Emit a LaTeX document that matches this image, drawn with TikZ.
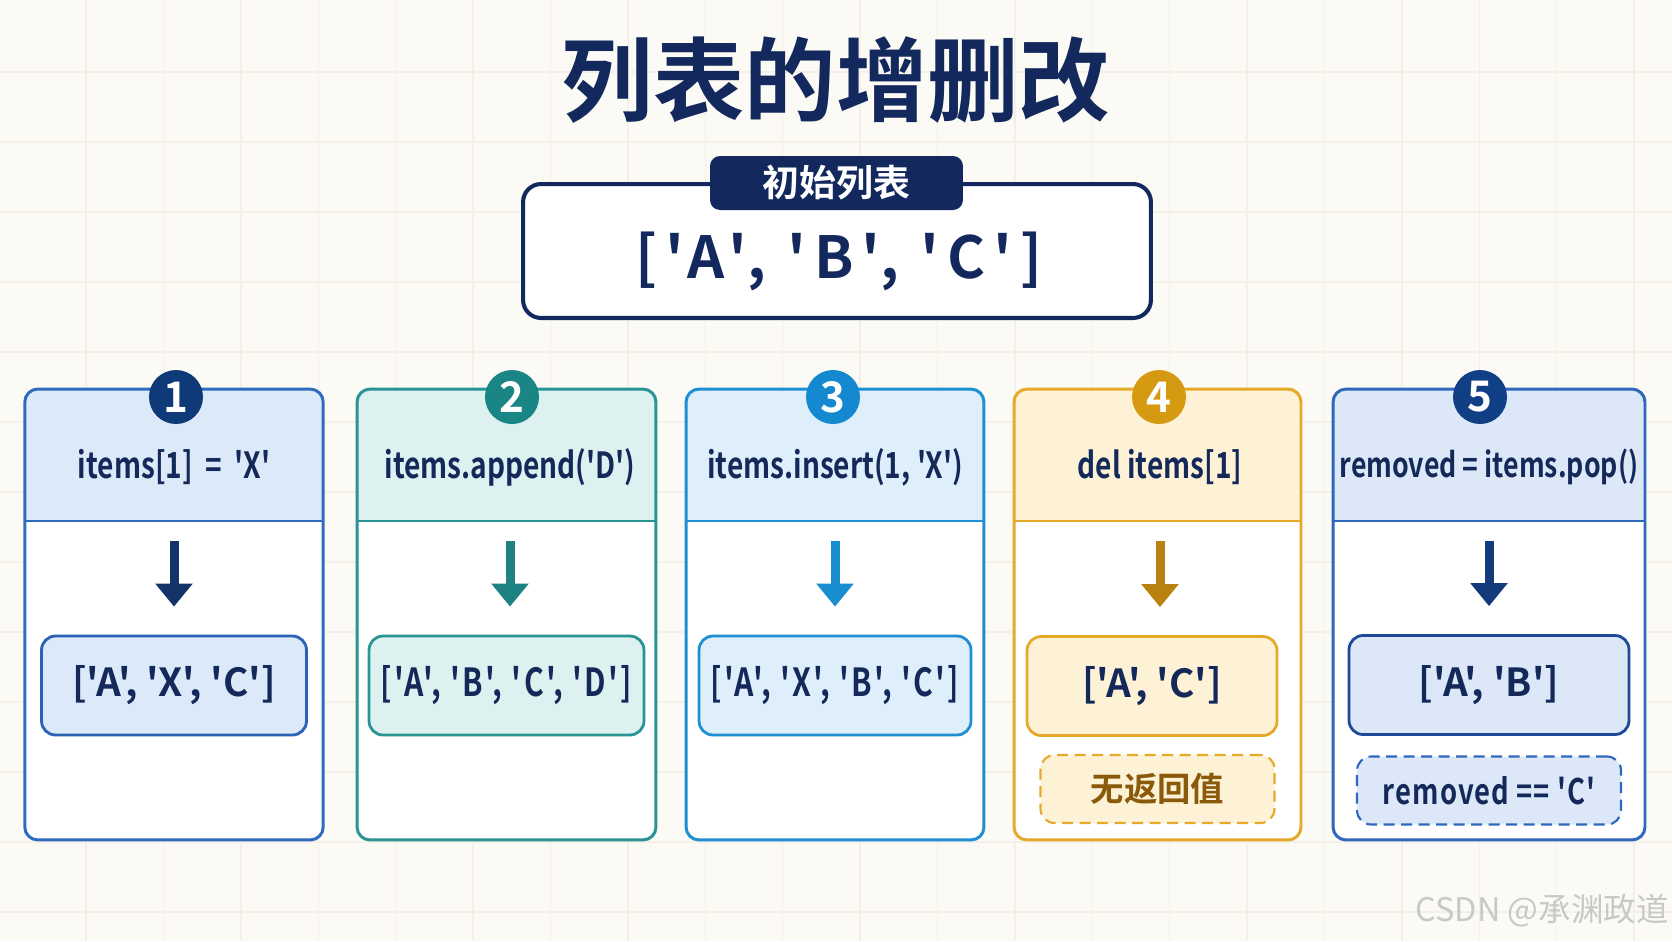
\documentclass[tikz,border=0pt]{standalone}
\usepackage{fontspec}
\usetikzlibrary{arrows.meta}
\newfontfamily\code{Noto Sans CJK SC}[BoldFont={Noto Sans CJK SC Bold}]
\newfontfamily\narrow{Noto Sans CJK SC}[BoldFont={Noto Sans CJK SC Bold},FakeStretch=0.78]
\definecolor{bg}{HTML}{FCFAF5}
\definecolor{gridc}{HTML}{F3F0E9}
\definecolor{navy}{HTML}{13295E}
\definecolor{txt}{HTML}{14295A}
\definecolor{wm}{HTML}{C8C8C8}
\definecolor{bdA}{HTML}{2F6CC0}
\definecolor{hdA}{HTML}{DCE9F8}
\definecolor{ncA}{HTML}{0F3A78}
\definecolor{arA}{HTML}{143469}
\definecolor{rbA}{HTML}{2A62B5}
\definecolor{bdB}{HTML}{2A9494}
\definecolor{hdB}{HTML}{DDF1F0}
\definecolor{ncB}{HTML}{1A8585}
\definecolor{arB}{HTML}{1E8282}
\definecolor{bdC}{HTML}{1E8FD2}
\definecolor{hdC}{HTML}{DEEFFB}
\definecolor{ncC}{HTML}{1489CF}
\definecolor{arC}{HTML}{1A8CD0}
\definecolor{bdD}{HTML}{E6A92A}
\definecolor{hdD}{HTML}{FDF1D6}
\definecolor{ncD}{HTML}{D59A12}
\definecolor{arD}{HTML}{B98110}
\definecolor{txD}{HTML}{8A5A0A}
\definecolor{bdE}{HTML}{2F67BC}
\definecolor{hdE}{HTML}{DCE8F7}
\definecolor{ncE}{HTML}{113F86}
\definecolor{arE}{HTML}{133A7A}
\definecolor{rbE}{HTML}{1D4A98}
\begin{document}
\begin{tikzpicture}[x=0.02cm,y=-0.02cm,font=\code\bfseries,
    panel/.style 2 args={draw=#1,fill=white,line width=1.7pt,rounded corners=0.26cm,
        minimum height=9.02cm,inner sep=0pt,
        path picture={\fill[#2,sharp corners] (path picture bounding box.north west) rectangle ([yshift=-2.64cm]path picture bounding box.north east);
            \draw[#1,line width=1.1pt,sharp corners] ([yshift=-2.64cm]path picture bounding box.north west) -- ([yshift=-2.64cm]path picture bounding box.north east);}},
    hdr/.style={text=txt,font=\narrow\bfseries\fontsize{20.5}{25}\selectfont,minimum height=2.36cm},
    num/.style={circle,fill=#1,text=white,minimum size=1.08cm,inner sep=0pt,font=\code\bfseries\fontsize{24}{28}\selectfont},
    res/.style 2 args={draw=#1,fill=#2,line width=1.6pt,rounded corners=0.28cm,minimum height=1.98cm,text=txt,font=\code\bfseries\fontsize{22}{26}\selectfont},
    note/.style 2 args={draw=#1,fill=#2,line width=1.2pt,dash pattern=on 0.22cm off 0.13cm,rounded corners=0.28cm,minimum height=1.36cm,font=\code\bfseries\fontsize{19}{23}\selectfont},
    arr/.style={draw=#1,line width=0.18cm,-{Triangle[width=0.72cm,length=0.46cm]},shorten <=0.3cm,shorten >=0.56cm}]
    \useasboundingbox (0,0) rectangle (1672,941);
    \fill[bg] (0,0) rectangle (1672,941);
    \foreach \gx in {86,163.4,...,1672} \draw[gridc,line width=0.8pt] (\gx,0) -- (\gx,941);
    \foreach \gy in {72,142,...,941} \draw[gridc,line width=0.8pt] (0,\gy) -- (1672,\gy);

    \node[text=navy,font=\code\bfseries\fontsize{52}{60}\selectfont] (title) at (836,80) {列表的增删改};

    \node[draw=navy,fill=white,line width=2.3pt,rounded corners=0.36cm,minimum width=12.56cm,minimum height=2.68cm] (init) at (837,251) {};
    \node[fill=navy,rounded corners=0.2cm,minimum width=5.06cm,minimum height=1.08cm,text=white,font=\code\bfseries\fontsize{21}{25}\selectfont] (tab) at (836.5,183) {初始列表};
    \node[text=navy,font=\code\bfseries\fontsize{33}{40}\selectfont\addfontfeature{LetterSpace=14}] (lst) at (839,261) {['A', 'B', 'C']};

    \node[panel={bdA}{hdA},minimum width=5.97cm] (p1) at (174,614.5) {};
    \node[panel={bdB}{hdB},minimum width=5.98cm] (p2) at (506.5,614.5) {};
    \node[panel={bdC}{hdC},minimum width=5.96cm] (p3) at (835,614.5) {};
    \node[panel={bdD}{hdD},minimum width=5.74cm] (p4) at (1157.5,614.5) {};
    \node[panel={bdE}{hdE},minimum width=6.24cm] (p5) at (1489,614.5) {};

    \node[num=ncA] (n1) at (176,397) {1};
    \node[num=ncB] (n2) at (512,397) {2};
    \node[num=ncC] (n3) at (833,397) {3};
    \node[num=ncD] (n4) at (1159,397) {4};
    \node[num=ncE] (n5) at (1480,397) {5};

    \node[hdr] (h1) at (174,467) {items[1] \ = \ 'X'};
    \node[hdr] (h2) at (510,467) {items.append('D')};
    \node[hdr] (h3) at (835,467) {items.insert(1, 'X')};
    \node[hdr] (h4) at (1160,467) {del items[1]};
    \node[hdr,font=\narrow\bfseries\fontsize{19.5}{24}\selectfont] (h5) at (1489,467) {removed = items.pop()};

    \node[res={rbA}{hdA},minimum width=5.30cm] (r1) at (174,685.5) {['A', 'X', 'C']};
    \node[res={bdB}{hdB},minimum width=5.50cm,font=\narrow\bfseries\fontsize{22}{26}\selectfont\addfontfeature{LetterSpace=6}] (r2) at (506.5,685.5) {['A', 'B', 'C', 'D']};
    \node[res={bdC}{hdC},minimum width=5.44cm,font=\narrow\bfseries\fontsize{22}{26}\selectfont\addfontfeature{LetterSpace=6}] (r3) at (835,685.5) {['A', 'X', 'B', 'C']};
    \node[res={bdD}{hdD},minimum width=5.00cm] (r4) at (1152,686) {['A', 'C']};
    \node[res={rbE}{hdE},minimum width=5.60cm] (r5) at (1489,685) {['A', 'B']};

    \node[note={bdD}{hdD},text=txD,minimum width=4.68cm] (d4) at (1157.5,789) {无返回值};
    \node[note={bdE}{hdE},text=txt,minimum width=5.28cm,font=\narrow\bfseries\fontsize{20}{24}\selectfont\addfontfeature{LetterSpace=3}] (d5) at (1489,790.5) {removed == 'C'};

    \draw[arr=arA] (h1.south) -- (h1.south |- r1.north);
    \draw[arr=arB] (h2.south) -- (h2.south |- r2.north);
    \draw[arr=arC] (h3.south) -- (h3.south |- r3.north);
    \draw[arr=arD] (h4.south) -- (h4.south |- r4.north);
    \draw[arr=arE] (h5.south) -- (h5.south |- r5.north);

    \node[anchor=east,inner sep=0pt,text=wm,font=\code\fontsize{18.5}{22}\selectfont] (wm) at (1669,911) {CSDN @承渊政道};
\end{tikzpicture}
\end{document}
